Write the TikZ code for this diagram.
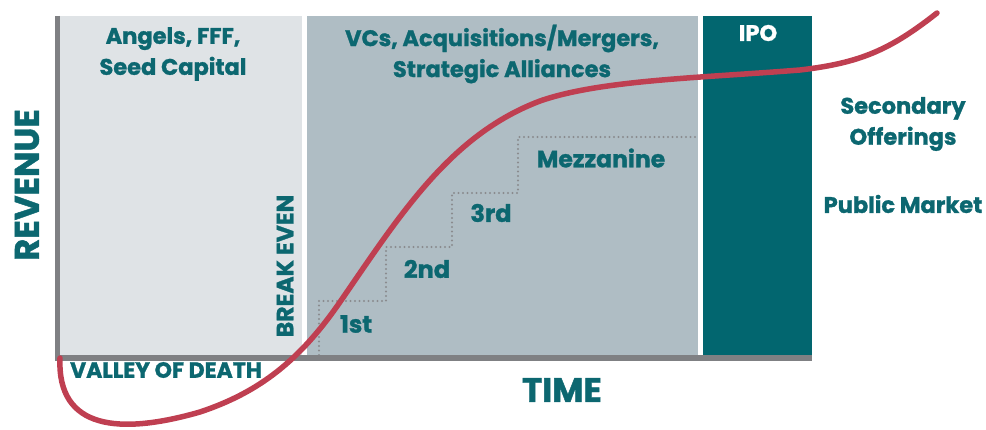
\documentclass[tikz,border=0pt]{standalone}
\usepackage{fontspec}
\setmainfont{Poppins}[BoldFeatures={FakeBold=1.2}]
\definecolor{pone}{HTML}{DFE3E6}
\definecolor{ptwo}{HTML}{AFBDC4}
\definecolor{tealbar}{HTML}{02666F}
\definecolor{tealtxt}{HTML}{0C6770}
\definecolor{axisgray}{HTML}{7F8083}
\definecolor{curvered}{HTML}{BF3F51}
\definecolor{dotgray}{HTML}{8A8B8E}
\begin{document}
\begin{tikzpicture}[x=1pt,y=-1pt,
  lbl/.style={text=tealtxt,font=\bfseries\fontsize{22.5}{31}\selectfont,align=center,inner sep=0pt},
  big/.style={text=tealtxt,font=\bfseries\fontsize{34}{36}\selectfont,inner sep=0pt},
  mid/.style={text=tealtxt,font=\bfseries\fontsize{22}{24}\selectfont,inner sep=0pt},
  axisline/.style={draw=axisgray,line width=5.5pt},
  stairs/.style={draw=dotgray,line width=2.2pt,dash pattern=on 0pt off 4.5pt,line cap=round},
  curve/.style={draw=curvered,line width=5.5pt,line cap=round,line join=round}]
\useasboundingbox (0,0) rectangle (986,430);
% panels
\fill[pone] (60,16) rectangle (302,356);
\fill[ptwo] (307,16) rectangle (698,356);
\fill[tealbar] (703,16) rectangle (812,356);
% steps
\coordinate (s0) at (319,355);
\coordinate (s1) at (319,301);
\coordinate (s2) at (386,301);
\coordinate (s3) at (386,247);
\coordinate (s4) at (452,247);
\coordinate (s5) at (452,193);
\coordinate (s6) at (518,193);
\coordinate (s7) at (518,137);
\coordinate (s8) at (697,137);
\draw[stairs] (s0) -- (s1) -- (s2) -- (s3) -- (s4) -- (s5) -- (s6) -- (s7) -- (s8);
% axes
\coordinate (top) at (57.5,16);
\coordinate (origin) at (57.5,358);
\coordinate (xend) at (812,358);
\draw[axisline,line cap=butt] (top) -- (origin) -- (xend);
% labels
\node[lbl] (angels) at (173,54) {Angels, FFF,\\Seed Capital};
\node[lbl] (vcs) at (502,54) {VCs, Acquisitions/Mergers,\\Strategic Alliances};
\node[lbl,text=white] (ipo) at (758,33) {IPO};
\node[lbl] (second) at (903,124) {Secondary\\Offerings};
\node[lbl] (public) at (903,204) {Public Market};
\node[big,rotate=90] (revenue) at (27,185) {REVENUE};
\node[big] (time) at (562,390) {TIME};
\node[mid,rotate=90,font=\bfseries\fontsize{23.5}{24}\selectfont] (breakeven) at (285,266) {BREAK EVEN};
\node[mid] (valley) at (166,370) {VALLEY OF DEATH};
\node[lbl,font=\bfseries\fontsize{24}{31}\selectfont] (first) at (356,324) {1st};
\node[lbl,font=\bfseries\fontsize{24}{31}\selectfont] (second2) at (427,269) {2nd};
\node[lbl,font=\bfseries\fontsize{24}{31}\selectfont] (third) at (491,213) {3rd};
\node[lbl,font=\bfseries\fontsize{23.5}{31}\selectfont] (mezz) at (601,158) {Mezzanine};
% curve
\draw[curve] (60,358) .. controls (57,430) and (120,435) .. (200,412)
  .. controls (260,392) and (300,360) .. (340,302)
  .. controls (400,215) and (450,135) .. (540,101)
  .. controls (600,80) and (700,78) .. (800,70)
  .. controls (860,63) and (890,50) .. (937,13);
\end{tikzpicture}
\end{document}
